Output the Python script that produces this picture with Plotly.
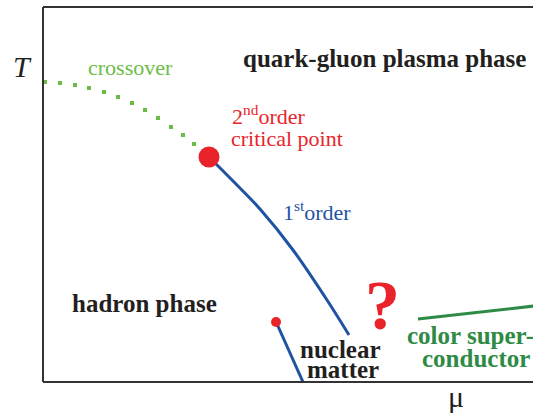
import plotly.graph_objects as go

# Data (mu, T) in chart units
crossover_mu = [2, 17, 32, 46, 61, 75, 89, 102, 115, 128, 140, 151]
crossover_T = [300, 299, 297, 294, 290, 285, 279, 272, 264, 255, 247, 238]

critical_mu = [166]
critical_T = [225]

first_order_mu = [166, 190, 217, 250, 284, 306]
first_order_T = [225, 201, 173, 132, 82, 47]

nuclear_mu = [234, 260]
nuclear_T = [58, 0]
nuclear_end_mu = [233]
nuclear_end_T = [60]

csc_mu = [375, 500]
csc_T = [63, 77]

RED = "#e8242a"
BLUE = "#1f52a3"
LGREEN = "#6cbd45"
DGREEN = "#2e8b45"
BLACK = "#231f20"
SERIF = "Liberation Serif"

fig = go.Figure()
fig.add_trace(go.Scatter(x=crossover_mu, y=crossover_T, mode="markers",
                         marker=dict(symbol="square", size=4, color=LGREEN), hoverinfo="skip"))
fig.add_trace(go.Scatter(x=first_order_mu, y=first_order_T, mode="lines",
                         line=dict(color=BLUE, width=3, shape="spline"), hoverinfo="skip"))
fig.add_trace(go.Scatter(x=nuclear_mu, y=nuclear_T, mode="lines",
                         line=dict(color=BLUE, width=3), hoverinfo="skip"))
fig.add_trace(go.Scatter(x=csc_mu, y=csc_T, mode="lines",
                         line=dict(color=DGREEN, width=3), hoverinfo="skip"))
fig.add_trace(go.Scatter(x=critical_mu, y=critical_T, mode="markers",
                         marker=dict(size=21, color=RED), hoverinfo="skip"))
fig.add_trace(go.Scatter(x=nuclear_end_mu, y=nuclear_end_T, mode="markers",
                         marker=dict(size=10, color=RED), hoverinfo="skip"))

W, H = 490, 375
def px(x):
    return (x - 43) / W
def py(y):
    return (382 - y) / H

ann = []
def add(text, x, y, size, color, xanchor="left", yanchor="middle", bold=False, italic=False):
    if bold:
        text = "<b>" + text + "</b>"
    if italic:
        text = "<i>" + text + "</i>"
    ann.append(dict(text=text, x=px(x), y=py(y), xref="paper", yref="paper",
                    xanchor=xanchor, yanchor=yanchor, showarrow=False,
                    font=dict(family=SERIF, size=size, color=color)))

add("T", 22, 66, 30, BLACK, xanchor="center", italic=True)
add("crossover", 86, 68, 22, LGREEN)
add("quark-gluon plasma phase", 241, 58, 25, BLACK, bold=True)
add("2<sup>nd</sup>order", 230, 115, 22, RED)
add("critical point", 229, 138, 22, RED)
add("1<sup>st</sup>order", 281, 211, 22, BLUE)
add("hadron phase", 70, 303, 25, BLACK, bold=True)
add("nuclear", 383, 349, 25, BLACK, xanchor="right", bold=True)
add("matter", 381, 369, 25, BLACK, xanchor="right", bold=True)
add("?", 382, 305, 70, RED, xanchor="center", bold=True)
add("color super-", 405, 335, 25, DGREEN, bold=True)
add("conductor", 420, 358, 25, DGREEN, bold=True)
add("μ", 456, 396, 30, BLACK, xanchor="center")

shapes = [
    dict(type="line", xref="paper", yref="paper", x0=0, x1=1.02, y0=1, y1=1, line=dict(color="#333333", width=2)),
    dict(type="line", xref="paper", yref="paper", x0=0, x1=1.02, y0=0, y1=0, line=dict(color="#333333", width=2)),
    dict(type="line", xref="paper", yref="paper", x0=0, x1=0, y0=0, y1=1, line=dict(color="#333333", width=2)),
]

fig.update_layout(
    width=533, height=415,
    margin=dict(l=43, r=0, t=7, b=33),
    paper_bgcolor="white", plot_bgcolor="white",
    showlegend=False,
    xaxis=dict(range=[0, W], visible=False, fixedrange=True),
    yaxis=dict(range=[0, H], visible=False, fixedrange=True),
    annotations=ann, shapes=shapes,
)
fig.write_html("out.html", config={"displayModeBar": False},
               post_script="document.body.style.margin='0';document.body.style.overflow='hidden';")
